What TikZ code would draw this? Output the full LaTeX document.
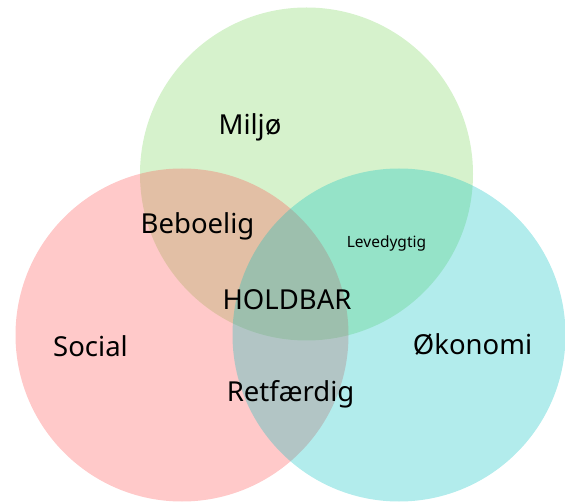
\documentclass[tikz,border=0pt]{standalone}
\usepackage{fontspec}
\setmainfont{Noto Sans}
\usepackage{tikz}
\usetikzlibrary{positioning}

\definecolor{miljogreen}{RGB}{118,212,85}
\definecolor{socialred}{RGB}{255,75,75}
\definecolor{okonomicyan}{RGB}{0,192,192}

\begin{document}
\begin{tikzpicture}[x=1pt,y=-1pt]
	\tikzset{ring/.style={circle,inner sep=0pt,minimum size=333pt,fill opacity=0.3},
		big/.style={anchor=base,inner sep=0pt,font=\fontsize{27.5}{30}\selectfont},
		small/.style={anchor=base,inner sep=0pt,font=\fontsize{15.5}{17}\selectfont}}
	\useasboundingbox (0,0) rectangle (565,502);
	\node[ring,fill=miljogreen] (gring) at (306.5,174) {};
	\node[ring,fill=socialred] (rring) at (182,335) {};
	\node[ring,fill=okonomicyan] (cring) at (399,335) {};
	\node[big] (miljo) at (250,135) {Miljø};
	\node[big] (beboelig) at (197.5,234) {Beboelig};
	\node[small] (levedygtig) at (386.5,248) {Levedygtig};
	\node[big] (holdbar) at (287,310) {HOLDBAR};
	\node[big] (social) at (90.5,357) {Social};
	\node[big] (okonomi) at (472.5,355) {Økonomi};
	\node[big] (retfaerdig) at (290.5,402) {Retfærdig};
\end{tikzpicture}
\end{document}
